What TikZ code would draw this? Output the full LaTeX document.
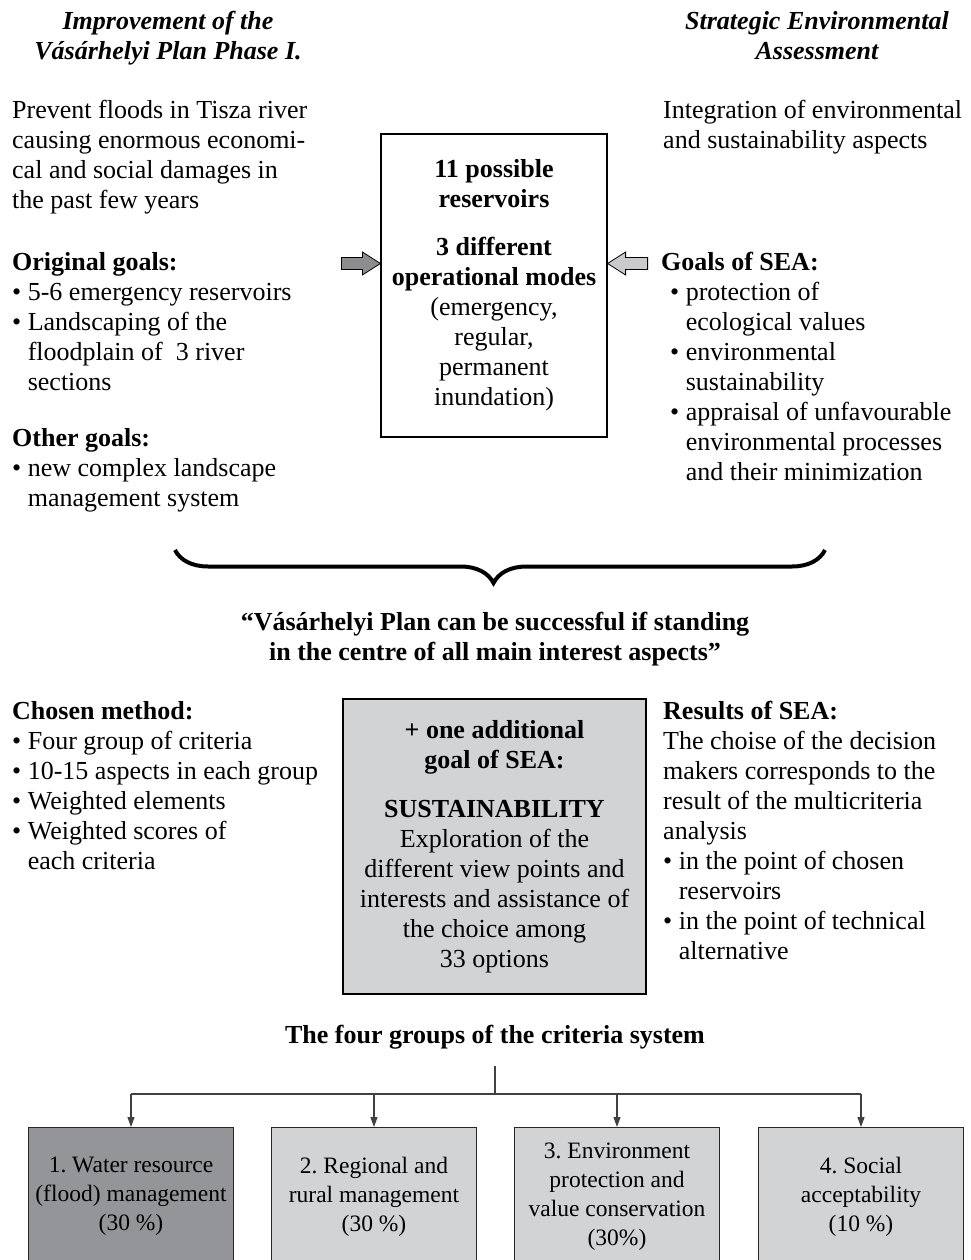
\documentclass[tikz,border=0pt]{standalone}
\usepackage{fontspec}
\setmainfont{Liberation Serif}
\usepackage{tikz}
\usetikzlibrary{arrows.meta,decorations.pathreplacing}

\definecolor{grpdark}{HTML}{939598}
\definecolor{grplight}{HTML}{D1D3D4}
\definecolor{arrdark}{HTML}{8D8D8F}
\definecolor{arrlight}{HTML}{CACACC}

\frenchspacing
\newcommand{\mainsize}{\fontsize{26}{30}\selectfont}
\newcommand{\grpsize}{\fontsize{23.5}{29}\selectfont}
\newcommand{\itm}{\textbullet\ }
\newcommand{\itmgap}{\phantom{\textbullet\ }}

\tikzset{
  txt/.style={font=\mainsize, align=left, inner sep=0pt, anchor=north west,
    execute at begin node=\strut, yshift=21pt},
  ttl/.style={font=\mainsize\bfseries\itshape, align=center, inner sep=0pt, anchor=north,
    execute at begin node=\strut, yshift=21pt},
  headline/.style={ttl, font=\mainsize\bfseries},
  resbox/.style={draw, line width=1.2pt, font=\mainsize, align=center, inner sep=0pt,
    minimum width=226pt, minimum height=303pt},
  susbox/.style={resbox, fill=grplight, minimum width=303pt, minimum height=295pt},
  grpbox/.style={draw=black!85, line width=1.2pt, font=\grpsize, align=center, inner sep=0pt,
    minimum width=205pt, minimum height=138pt, anchor=north},
  link/.style={draw=black!75, line width=1.1pt},
  blockarr/.style={draw, line width=0.8pt, line join=miter}
}

\begin{document}
\begin{tikzpicture}[x=1pt, y=-1pt]
\useasboundingbox (0,0) rectangle (971,1260);

\node[ttl] (lttl) at (168,32) {Improvement of the\\Vásárhelyi Plan Phase I.};
\node[ttl] (rttl) at (817,32) {Strategic Environmental\\Assessment};

\node[txt] (lintro) at (12,121) {Prevent floods in Tisza river\\causing enormous economi-\\cal and social damages in\\the past few years};
\node[txt] (orig) at (12,273) {\textbf{Original goals:}\\\itm 5-6 emergency reservoirs\\\itm Landscaping of the\\\itmgap floodplain of\ \ 3 river\\\itmgap sections};
\node[txt] (other) at (12,449) {\textbf{Other goals:}\\\itm new complex landscape\\\itmgap management system};

\node[txt] (rintro) at (663,121) {Integration of environmental\\and sustainability aspects};
\node[txt] (seagoals) at (661,273) {\textbf{Goals of SEA:}\\\hspace*{9pt}\itm protection of\\\hspace*{9pt}\itmgap ecological values\\\hspace*{9pt}\itm environmental\\\hspace*{9pt}\itmgap sustainability\\\hspace*{9pt}\itm appraisal of unfavourable\\\hspace*{9pt}\itmgap environmental processes\\\hspace*{9pt}\itmgap and their minimization};

\node[resbox] (res) at (494,285.5) {\textbf{11 possible}\\\textbf{reservoirs}\\[18pt]\textbf{3 different}\\\textbf{operational modes}\\(emergency,\\regular,\\permanent\\inundation)};

\draw[blockarr, fill=arrdark] (res.west |- 0,263.5) -- ++(-18,-11.5) -- ++(0,5.5) -- ++(-21,0) -- ++(0,12) -- ++(21,0) -- ++(0,5.5) -- cycle;
\draw[blockarr, fill=arrlight] (res.east |- 0,263.5) -- ++(18,-11.5) -- ++(0,5.5) -- ++(22,0) -- ++(0,12) -- ++(-22,0) -- ++(0,5.5) -- cycle;

\coordinate (braceR) at (825,550);
\coordinate (braceL) at (175,550);
\draw[decorate, decoration={brace, amplitude=33pt, aspect=0.51}, line width=4pt] (braceR) -- (braceL);

\node[headline] (quote) at (495,633) {“Vásárhelyi Plan can be successful if standing\\in the centre of all main interest aspects”};

\node[txt] (method) at (12,722) {\textbf{Chosen method:}\\\itm Four group of criteria\\\itm 10-15 aspects in each group\\\itm Weighted elements\\\itm Weighted scores of\\\itmgap each criteria};
\node[susbox] (sus) at (494.5,846.5) {\textbf{+ one additional}\\\textbf{goal of SEA:}\\[19pt]\textbf{SUSTAINABILITY}\\Exploration of the\\different view points and\\interests and assistance of\\the choice among\\33 options};
\node[txt] (results) at (663,722) {\textbf{Results of SEA:}\\The choise of the decision\\makers corresponds to the\\result of the multicriteria\\analysis\\\itm in the point of chosen\\\itmgap reservoirs\\\itm in the point of technical\\\itmgap alternative};

\node[headline] (groups) at (495,1043) {The four groups of the criteria system};

\node[grpbox, fill=grpdark] (g1) at (131,1127) {1. Water resource\\(flood) management\\(30~\%)};
\node[grpbox, fill=grplight] (g2) at (374,1127) {2. Regional and\\rural management\\(30~\%)};
\node[grpbox, fill=grplight] (g3) at (617,1127) {3. Environment\\protection and\\value conservation\\(30\%)};
\node[grpbox, fill=grplight] (g4) at (861,1127) {4. Social\\acceptability\\(10~\%)};

\coordinate (top) at (495,1066);
\coordinate (hub) at (495,1094);
\draw[link] (top) -- (hub);
\draw[link] (g1.north |- hub) -- (g4.north |- hub);
\foreach \g in {g1,g2,g3,g4}
  \draw[link, -{Triangle[length=10pt,width=7pt]}] (\g.north |- hub) -- (\g.north);
\end{tikzpicture}
\end{document}
